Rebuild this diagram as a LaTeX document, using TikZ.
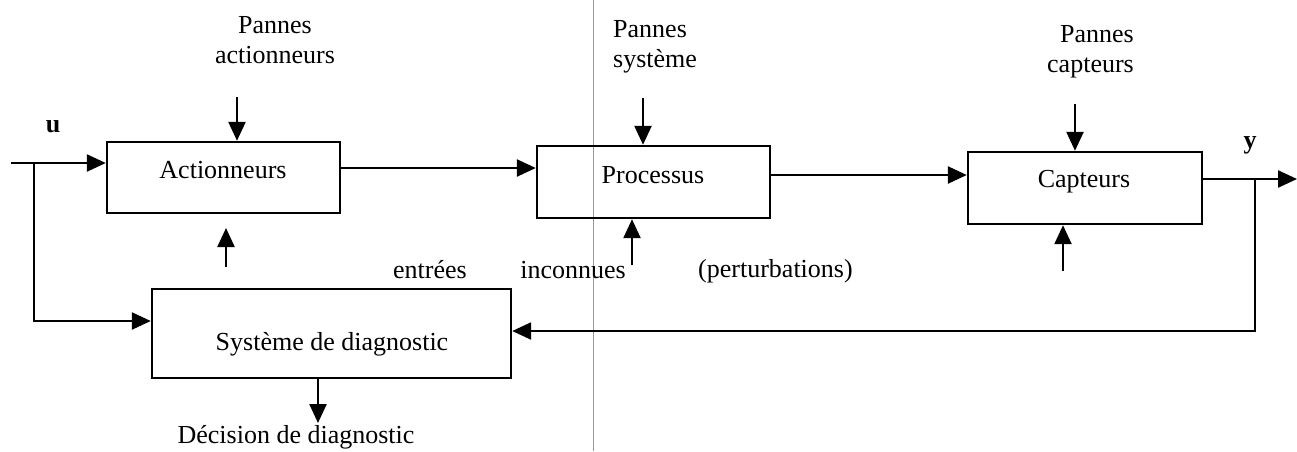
\documentclass[tikz,border=0pt]{standalone}
\usepackage{fontspec}
\setmainfont{Liberation Serif}
\usetikzlibrary{arrows.meta}
\begin{document}
\begin{tikzpicture}[x=1pt,y=-1pt,
  line width=2.4pt,
  every node/.style={font=\fontsize{26}{30}\selectfont, inner sep=0pt},
  blockbox/.style={draw, line width=2.4pt, minimum width=#1, anchor=center},
  flow/.style={-{Triangle[length=19pt,width=17pt]}}]
\useasboundingbox[fill=white] (0,0) rectangle (1297,451);

% thin vertical fold line
\coordinate (foldT) at (593,0);
\coordinate (foldB) at (593,451);
\draw[line width=0.9pt, black!40] (foldT) -- (foldB);

% blocks
\node[blockbox=233pt, minimum height=71pt] (act)  at (223.5,177.5) {};
\node[blockbox=233pt, minimum height=72pt] (proc) at (653.5,182) {};
\node[blockbox=234pt, minimum height=72pt] (capt) at (1085,188) {};
\node[blockbox=359pt, minimum height=89pt] (diag) at (331.5,333.5) {};

\node (actT)  at (223,170) {Actionneurs};
\node (procT) at (653,175) {Processus};
\node (captT) at (1084,182) {Capteurs};
\node (diagT) at (332,344) {Système de diagnostic};

% labels
\node (u) at (53,127) {\bfseries u};
\node (y) at (1250,145) {\bfseries y};
\node[align=center] (pa) at (275,40) {Pannes\\actionneurs};
\node[align=left, anchor=west] (ps) at (612,47) {Pannes\\système};
\node[align=right, anchor=east] (pc) at (1135,52) {Pannes\\capteurs};
\node (entr) at (430,270) {entrées};
\node (inco) at (573,270) {inconnues};
\node[anchor=west] (pert) at (697,271) {(perturbations)};
\node (dec) at (296,437) {Décision de diagnostic};

% main chain
\coordinate (uin) at (11,163);
\coordinate (uj) at (34,163);
\draw[flow] (uin) -- (act.west |- uin);
\draw[flow] (act.east |- 0,168) -- (proc.west |- 0,168);
\draw[flow] (proc.east |- 0,175) -- (capt.west |- 0,175);
\coordinate (yout) at (1297,179);
\coordinate (yj) at (1255,179);
\draw[flow] (capt.east |- yout) -- (yout);

% feedback to the diagnosis block
\coordinate (ub) at (34,321);
\draw[flow] (uj) -- (ub) -- (diag.west |- ub);
\coordinate (yb) at (1255,331);
\draw[flow] (yj) -- (yb) -- (diag.east |- yb);

% fault inputs from above
\coordinate (fa) at (237,97);
\coordinate (fp) at (643,98);
\coordinate (fc) at (1075,104);
\draw[flow] (fa) -- (act.north -| fa);
\draw[flow] (fp) -- (proc.north -| fp);
\draw[flow] (fc) -- (capt.north -| fc);

% unknown inputs from below
\coordinate (da) at (226,267);
\coordinate (dat) at (226,228);
\coordinate (dp) at (632,265);
\coordinate (dc) at (1063,271);
\draw[flow] (da) -- (dat);
\draw[flow] (dp) -- (proc.south -| dp);
\draw[flow] (dc) -- (capt.south -| dc);

% decision output
\coordinate (dd) at (318,423);
\draw[flow] (diag.south -| dd) -- (dd);
\end{tikzpicture}
\end{document}
